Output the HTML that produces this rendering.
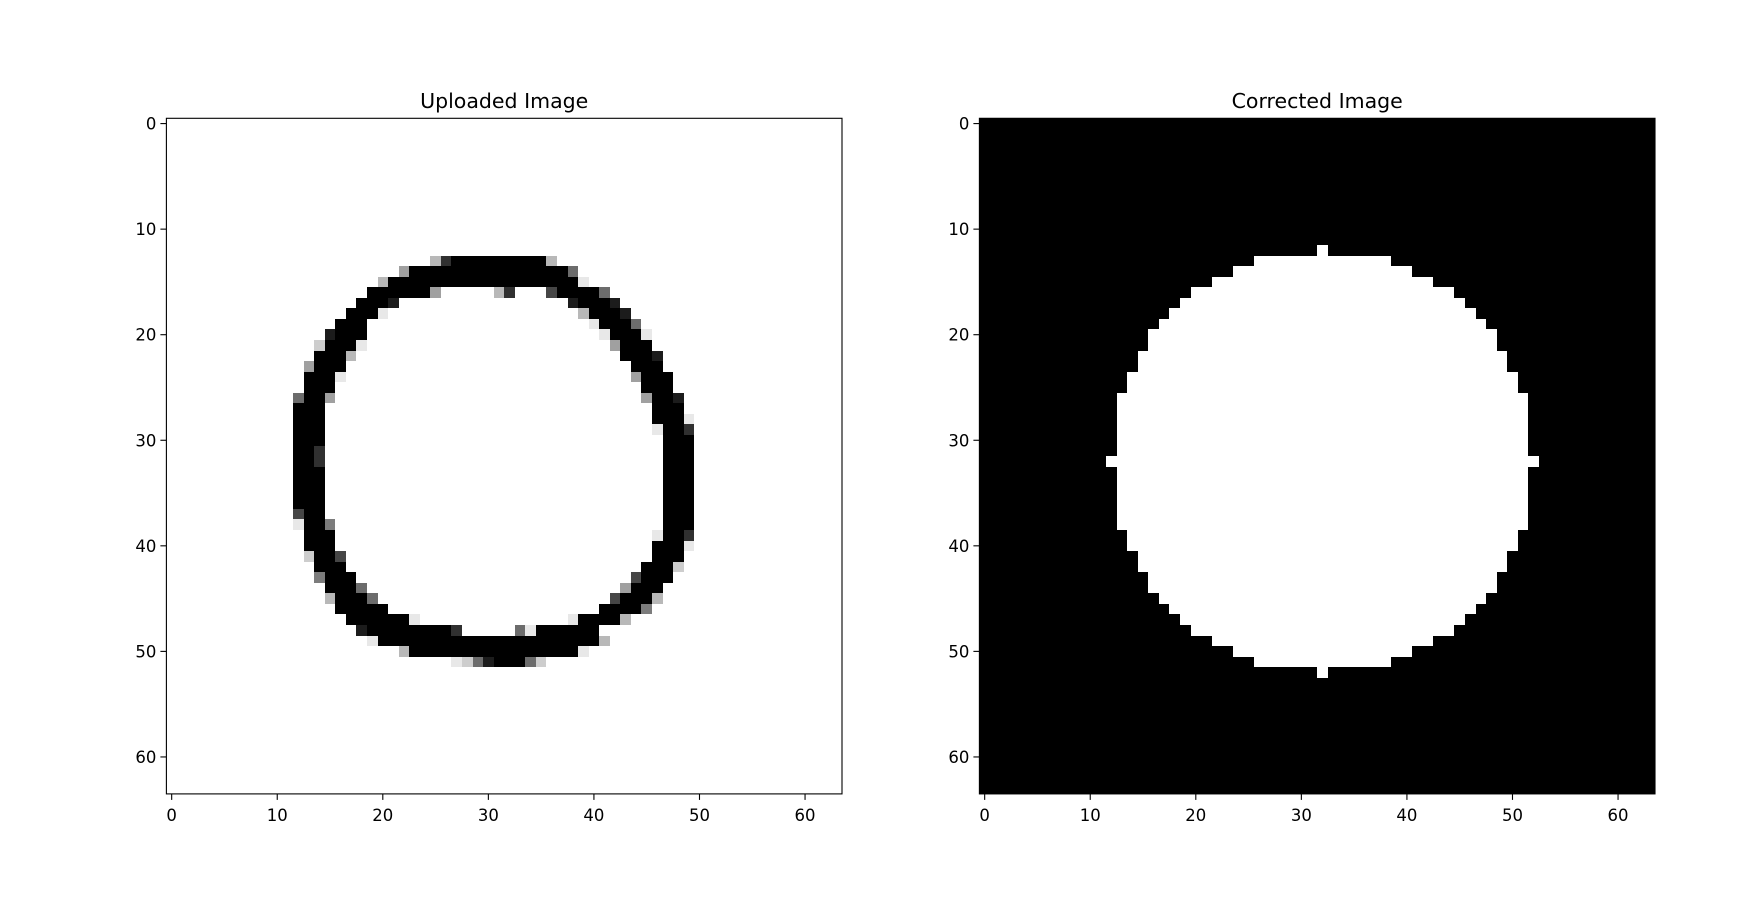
<!DOCTYPE html>
<html><head><meta charset="utf-8">
<style>
html,body{margin:0;padding:0;background:#fff;}
svg{display:block;font-family:"DejaVu Sans","Liberation Sans",sans-serif;}
</style></head>
<body>
<svg id="fig" width="1752" height="917" viewBox="0 0 1752 917" xmlns="http://www.w3.org/2000/svg">
<rect width="1752" height="917" fill="#fff"/>
<g id="left"></g>
<g id="right"></g>
</svg>
<script>
// ---- data ----
const tickValues = [0, 10, 20, 30, 40, 50, 60];
const gridSize = 64;
// uploaded image: [row, startCol, pattern] ; '.'=white, '0'=black, 1-9 = gray levels (dark->light)
const uploadedRows = [
[13,25,"720000000007"],
[14,22,"60000000000000004"],
[15,20,"70000000000000000009"],
[16,19,"0000006.....72...300004"],
[17,18,"0001................10001"],
[18,17,"0009..................70001"],
[19,16,"000.....................90004"],
[20,15,"1000......................90009"],
[21,14,"80009.......................6000"],
[22,14,"0007.........................0001"],
[23,13,"6000...........................000"],
[24,13,"0009...........................6000"],
[25,13,"000.............................000"],
[26,12,"4006.............................6001"],
[27,12,"000...............................000"],
[28,12,"000...............................0009"],
[29,12,"000...............................9002"],
[30,12,"000................................000"],
[31,12,"002................................000"],
[32,12,"002................................000"],
[33,12,"000................................000"],
[34,12,"000................................000"],
[35,12,"000................................000"],
[36,12,"000................................000"],
[37,12,"300................................000"],
[38,12,"9005...............................000"],
[39,13,"000..............................9002"],
[40,13,"000..............................0009"],
[41,13,"8003.............................000"],
[42,14,"000............................0008"],
[43,14,"5000..........................3000"],
[44,15,"0004........................6000"],
[45,15,"70004......................30007"],
[46,16,"00000....................00005"],
[47,17,"0000009..............900007"],
[48,18,"1000000002.....49000000"],
[49,19,"90000000000000000000007"],
[50,22,"700000000000000009"],
[51,27,"984100048"]
];
const grayLevels = ["#000000","#1c1c1c","#303030","#464646","#6c6c6c","#7c7c7c","#a0a0a0","#b8b8b8","#cdcdcd","#e8e8e8"];
// corrected image: white disk, first row and half-widths per row
const diskCenterCol = 32;
const diskFirstRow = 12;
const diskHalfWidths = [0,6,8,10,12,13,14,15,16,16,17,17,18,18,19,19,19,19,19,19,20,19,19,19,19,19,19,18,18,17,17,16,16,15,14,13,12,10,8,6,0];

const NS = "http://www.w3.org/2000/svg";
const AX_TOP = 118.3, AX_H = 675.6;
const panels = [
  {g: document.getElementById('left'), left: 166.4, title: "Uploaded Image", key: "uploaded"},
  {g: document.getElementById('right'), left: 979.4, title: "Corrected Image", key: "corrected"}
];
function mk(tag, attrs, parent){ const e=document.createElementNS(NS,tag); for(const k in attrs) e.setAttribute(k,attrs[k]); parent.appendChild(e); return e; }

panels.forEach(p => {
  const cell = AX_H / gridSize;
  const X = c => p.left + (c + 0.5) * cell;
  const Y = r => AX_TOP + (r + 0.5) * cell;
  const xe = c => p.left + c * cell;
  const ye = r => AX_TOP + r * cell;
  const img = mk('g', {'shape-rendering':'crispEdges'}, p.g);
  
  
  if (p.key === "uploaded") {
    uploadedRows.forEach(([r, c0, pat]) => {
      for (let i = 0; i < pat.length; i++) {
        const ch = pat[i]; if (ch === '.') continue;
        const c = c0 + i;
        const x0 = Math.round(xe(c)), x1 = Math.round(xe(c+1));
        const y0 = Math.round(ye(r)), y1 = Math.round(ye(r+1));
        const px = mk('rect', {x:x0, y:y0, width:x1-x0, height:y1-y0, fill:grayLevels[+ch]}, img);
        
        
      }
    });
  } else {
    const bg = mk('rect', {x:p.left, y:AX_TOP, width:AX_H, height:AX_H, fill:'#000'}, img);
    
    
    diskHalfWidths.forEach((hw, i) => {
      const r = diskFirstRow + i;
      const x0 = Math.round(xe(diskCenterCol - hw)), x1 = Math.round(xe(diskCenterCol + hw + 1));
      const y0 = Math.round(ye(r)), y1 = Math.round(ye(r+1));
      const row = mk('rect', {x:x0, y:y0, width:x1-x0, height:y1-y0, fill:'#fff'}, img);
      
      
    });
  }
  const frame = mk('rect', {x:p.left, y:AX_TOP, width:AX_H, height:AX_H, fill:'none', stroke:'#000', 'stroke-width':1.1}, p.g);
  
  
  const t = mk('text', {x:p.left + AX_H/2, y:108, 'text-anchor':'middle', 'font-size':20.5, fill:'#000'}, p.g);
  t.textContent = p.title;
  
  
  tickValues.forEach(v => {
    const xt = X(v), yb = AX_TOP + AX_H;
    const tk = mk('line', {x1:xt, x2:xt, y1:yb, y2:yb+6, stroke:'#000', 'stroke-width':1.1}, p.g);
    
    
    const xl = mk('text', {x:xt, y:821, 'text-anchor':'middle', 'font-size':16.5, fill:'#000'}, p.g);
    xl.textContent = v;
    
    
    const yt = Y(v);
    const tky = mk('line', {x1:p.left-6, x2:p.left, y1:yt, y2:yt, stroke:'#000', 'stroke-width':1.1}, p.g);
    
    
    const yl = mk('text', {x:p.left-10, y:yt+6, 'text-anchor':'end', 'font-size':16.5, fill:'#000'}, p.g);
    yl.textContent = v;
    
    
  });
});
</script>
</body></html>
